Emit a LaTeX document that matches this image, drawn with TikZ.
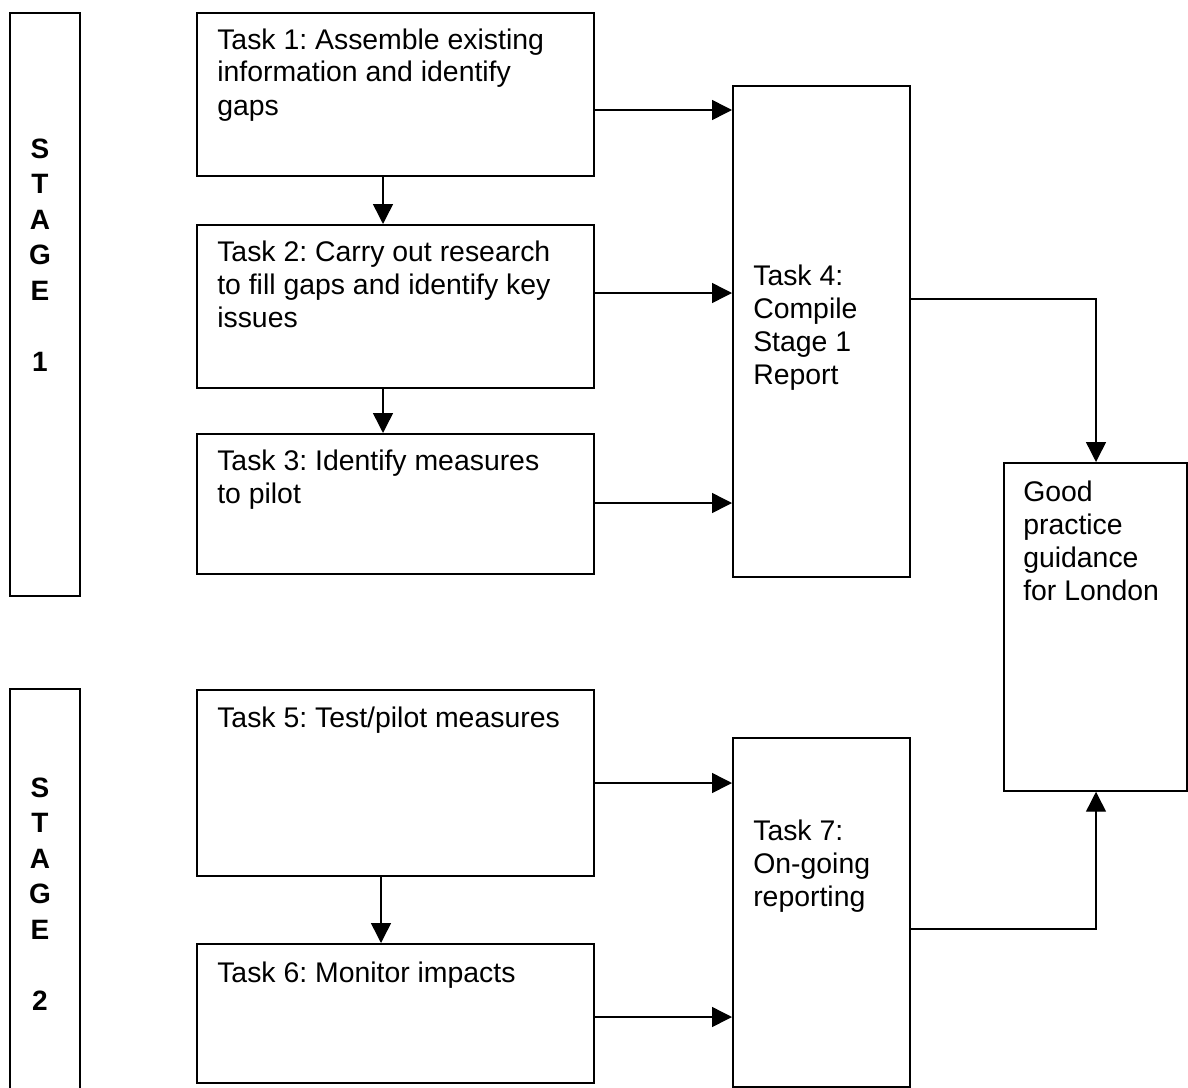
\documentclass[tikz,border=0pt]{standalone}
\usepackage{fontspec}
\setmainfont{Liberation Sans}
\usetikzlibrary{arrows.meta}
\frenchspacing

\newdimen\pxu \pxu=0.75pt

\tikzset{
  box/.style={draw, line width=1.3pt, anchor=north west, inner sep=0pt},
  txt/.style={anchor=base west, align=left, inner sep=0pt, font=\fontsize{21.3}{24.75}\selectfont},
  stg/.style={anchor=base, align=center, inner sep=0pt, font=\fontsize{21}{26.6}\selectfont\bfseries},
  arr/.style={-{Triangle[length=15pt, width=15pt]}, line width=1.1pt},
}

\begin{document}
\begin{tikzpicture}[x=0.75pt, y=-0.75pt]
  \useasboundingbox (0,0) rectangle (1188,1088);

  % stages (text placed by its last line)
  \node[box, minimum width=70\pxu, minimum height=583\pxu] (st1) at (9,12) {};
  \node[stg] (st1txt) at (40,371) {S\\T\\A\\G\\E\\[26.6pt]1};
  \node[box, minimum width=70\pxu, minimum height=460\pxu] (st2) at (9,688) {};
  \node[stg] (st2txt) at (40,1010) {S\\T\\A\\G\\E\\[26.6pt]2};

  % stage 1 tasks
  \node[box, minimum width=397\pxu, minimum height=163\pxu] (t1) at (196,12) {};
  \node[txt] (t1txt) at (217,115) {Task 1: Assemble existing\\information and identify\\gaps};
  \node[box, minimum width=397\pxu, minimum height=163\pxu] (t2) at (196,224) {};
  \node[txt] (t2txt) at (217,327) {Task 2: Carry out research\\to fill gaps and identify key\\issues};
  \node[box, minimum width=397\pxu, minimum height=140\pxu] (t3) at (196,433) {};
  \node[txt] (t3txt) at (217,503) {Task 3: Identify measures\\to pilot};
  \node[box, minimum width=177\pxu, minimum height=491\pxu] (t4) at (732,85) {};
  \node[txt] (t4txt) at (753,384) {Task 4:\\Compile\\Stage 1\\Report};

  % guidance
  \node[box, minimum width=183\pxu, minimum height=328\pxu] (good) at (1003,462) {};
  \node[txt] (goodtxt) at (1023,600) {Good\\practice\\guidance\\for London};

  % stage 2 tasks
  \node[box, minimum width=397\pxu, minimum height=186\pxu] (t5) at (196,689) {};
  \node[txt] (t5txt) at (217,727) {Task 5: Test/pilot measures};
  \node[box, minimum width=397\pxu, minimum height=139\pxu] (t6) at (196,943) {};
  \node[txt] (t6txt) at (217,982) {Task 6: Monitor impacts};
  \node[box, minimum width=177\pxu, minimum height=349\pxu] (t7) at (732,737) {};
  \node[txt] (t7txt) at (753,906) {Task 7:\\On-going\\reporting};

  % connector positions
  \coordinate (d1) at (383,0);
  \coordinate (d5) at (381,0);
  \coordinate (dg) at (1096,0);
  \coordinate (h1) at (0,110);
  \coordinate (h2) at (0,293);
  \coordinate (h3) at (0,503);
  \coordinate (h4) at (0,299);
  \coordinate (h5) at (0,783);
  \coordinate (h6) at (0,1017);
  \coordinate (h7) at (0,929);

  \draw[arr] (t1.south -| d1) -- (t2.north -| d1);
  \draw[arr] (t2.south -| d1) -- (t3.north -| d1);
  \draw[arr] (t5.south -| d5) -- (t6.north -| d5);

  \draw[arr] (t1.east |- h1) -- (t4.west |- h1);
  \draw[arr] (t2.east |- h2) -- (t4.west |- h2);
  \draw[arr] (t3.east |- h3) -- (t4.west |- h3);
  \draw[arr] (t5.east |- h5) -- (t7.west |- h5);
  \draw[arr] (t6.east |- h6) -- (t7.west |- h6);

  \draw[arr] (t4.east |- h4) -| (good.north -| dg);
  \draw[arr] (t7.east |- h7) -| (good.south -| dg);
\end{tikzpicture}
\end{document}
